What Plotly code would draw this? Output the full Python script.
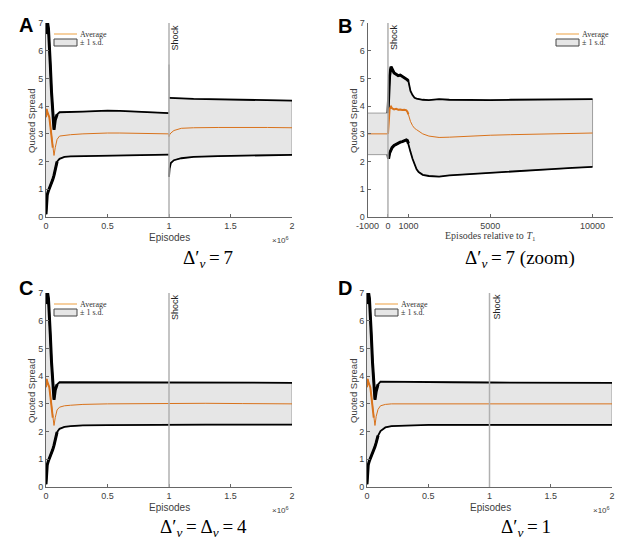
import plotly.graph_objects as go

# ---------------- data ----------------
# Panel A : Delta'_v = 7
a_x = [0, 5e3, 1e4, 2e4, 2.7e4, 3.5e4, 4.5e4, 5.5e4, 6.5e4, 7.5e4, 9e4, 1.1e5, 1.5e5, 2e5,
       3e5, 4e5, 5e5, 6e5, 7e5, 8e5, 9e5, 9.99e5, 1e6, 1.001e6, 1.005e6, 1.015e6, 1.04e6,
       1.1e6, 1.2e6, 1.4e6, 1.6e6, 1.8e6, 2e6]
a_upper = [6.6, 7.2, 7.1, 6.8, 6.3, 5.5, 4.5, 3.6, 3.15, 3.5, 3.7, 3.78, 3.78, 3.79,
           3.8, 3.82, 3.84, 3.83, 3.81, 3.8, 3.77, 3.75, 5.5, 4.3, 4.3, 4.3, 4.3,
           4.28, 4.26, 4.24, 4.22, 4.21, 4.2]
a_mean = [3.6, 3.9, 3.8, 3.7, 3.6, 3.3, 2.9, 2.5, 2.22, 2.5, 2.8, 2.92, 2.95, 2.97,
          3.0, 3.02, 3.03, 3.03, 3.02, 3.02, 3.01, 3.0, 2.9, 2.92, 2.97, 3.03, 3.12,
          3.2, 3.22, 3.23, 3.24, 3.23, 3.22]
a_lower = [0.1, 0.6, 0.8, 0.95, 1.02, 1.12, 1.25, 1.35, 1.5, 1.75, 2.0, 2.1, 2.17, 2.19,
           2.2, 2.21, 2.22, 2.22, 2.23, 2.24, 2.25, 2.25, 1.45, 1.6, 1.75, 1.95, 2.05,
           2.12, 2.17, 2.2, 2.22, 2.23, 2.24]

# Panel B : zoom around the shock (episodes relative to T1)
b_x = [-1000, -1, 0, 30, 80, 150, 200, 300, 400, 500, 600, 700, 800, 900, 950, 1000,
       1050, 1100, 1200, 1300, 1400, 1500, 1700, 2000, 2500, 3000, 4000, 5000, 6000,
       7000, 8000, 9000, 10000]
b_upper = [3.75, 3.75, 3.75, 4.4, 5.1, 5.42, 5.35, 5.2, 5.15, 5.1, 5.12, 5.07, 5.05, 5.0,
           4.95, 4.9, 4.7, 4.55, 4.4, 4.3, 4.27, 4.25, 4.23, 4.22, 4.25, 4.23, 4.22, 4.22,
           4.23, 4.24, 4.25, 4.25, 4.25]
b_mean = [3.0, 3.0, 3.0, 3.5, 3.9, 3.98, 3.92, 3.88, 3.9, 3.87, 3.88, 3.86, 3.87, 3.85,
          3.8, 3.7, 3.55, 3.45, 3.3, 3.2, 3.15, 3.1, 3.0, 2.92, 2.87, 2.88, 2.92, 2.95,
          2.97, 2.99, 3.0, 3.02, 3.03]
b_lower = [2.25, 2.25, 2.25, 2.1, 2.3, 2.45, 2.5, 2.58, 2.63, 2.66, 2.7, 2.72, 2.75, 2.78,
           2.76, 2.65, 2.5, 2.35, 2.1, 1.9, 1.72, 1.62, 1.52, 1.48, 1.46, 1.5, 1.55, 1.6,
           1.65, 1.69, 1.73, 1.77, 1.81]

# Panel C : Delta'_v = Delta_v = 4
c_x = [0, 5e3, 1e4, 2e4, 2.7e4, 3.5e4, 4.5e4, 5.5e4, 6.5e4, 7.5e4, 9e4, 1.1e5, 1.5e5, 2e5,
       3e5, 5e5, 7e5, 1e6, 1.3e6, 1.6e6, 2e6]
c_upper = [6.6, 7.2, 7.1, 6.8, 6.3, 5.5, 4.5, 3.6, 3.15, 3.5, 3.7, 3.78, 3.78, 3.78,
           3.78, 3.78, 3.77, 3.78, 3.78, 3.77, 3.76]
c_mean = [3.6, 3.9, 3.8, 3.7, 3.6, 3.3, 2.9, 2.5, 2.22, 2.5, 2.78, 2.88, 2.93, 2.95,
          2.98, 3.0, 3.01, 3.02, 3.02, 3.01, 3.0]
c_lower = [0.1, 0.6, 0.8, 0.95, 1.02, 1.12, 1.25, 1.35, 1.5, 1.75, 1.98, 2.1, 2.17, 2.2,
           2.22, 2.23, 2.24, 2.25, 2.25, 2.25, 2.25]

# Panel D : Delta'_v = 1
d_x = [0, 5e3, 1e4, 2e4, 2.7e4, 3.5e4, 4.5e4, 5.5e4, 6.5e4, 7.5e4, 9e4, 1.1e5, 1.5e5, 2e5,
       3e5, 5e5, 7e5, 1e6, 1.3e6, 1.6e6, 2e6]
d_upper = [6.6, 7.2, 7.1, 6.8, 6.3, 5.5, 4.5, 3.6, 3.15, 3.45, 3.7, 3.8, 3.8, 3.8,
           3.8, 3.79, 3.78, 3.77, 3.77, 3.76, 3.76]
d_mean = [3.6, 3.9, 3.8, 3.7, 3.6, 3.3, 2.9, 2.5, 2.22, 2.55, 2.8, 2.93, 2.98, 3.0,
          3.0, 3.0, 3.0, 3.0, 3.0, 3.0, 3.0]
d_lower = [0.1, 0.6, 0.8, 0.95, 1.02, 1.12, 1.25, 1.35, 1.45, 1.6, 1.85, 2.02, 2.15, 2.2,
           2.22, 2.24, 2.24, 2.24, 2.24, 2.24, 2.24]

shock_x = [1e6, 0, 1e6, 1e6]
x_ticks_long = [0, 5e5, 1e6, 1.5e6, 2e6]
x_ticklabels_long = ["0", "0.5", "1", "1.5", "2"]
x_ticks_zoom = [-1000, 0, 1000, 5000, 10000]
y_ticks = [0, 1, 2, 3, 4, 5, 6, 7]
captions = ["Δ′<sub><i>v</i></sub>\u2009=\u20097",
            "Δ′<sub><i>v</i></sub>\u2009=\u20097 (zoom)",
            "Δ′<sub><i>v</i></sub>\u2009=\u2009Δ<sub><i>v</i></sub>\u2009=\u20094",
            "Δ′<sub><i>v</i></sub>\u2009=\u20091"]
letters = ["A", "B", "C", "D"]

# ---------------- style ----------------
W, H = 627, 555
FILL = "#e6e6e6"
EDGE = "#8a8a8a"
MEANC = "#d9731c"
SANS = "Liberation Sans, Arial, sans-serif"
SERIF = "Liberation Serif, Times New Roman, serif"
AXC = "#666666"
TXT = "#404040"


def px(x):
    return x / W


def py(y):
    return 1 - y / H


fig = go.Figure()


def add_panel(n, x, up, mu, lo, up_segs, lo_segs, thick, mean_thick):
    xa = "x" if n == 1 else "x%d" % n
    ya = "y" if n == 1 else "y%d" % n
    common = dict(xaxis=xa, yaxis=ya, showlegend=False, hoverinfo="skip", mode="lines")
    fig.add_trace(go.Scatter(x=list(x) + list(x)[::-1], y=list(up) + list(lo)[::-1],
                             fill="toself", fillcolor=FILL,
                             line=dict(color=EDGE, width=0.8), **common))
    for arr, segs in ((up, up_segs), (lo, lo_segs)):
        for s, e in segs:
            fig.add_trace(go.Scatter(x=x[s:e], y=arr[s:e],
                                     line=dict(color="black", width=1.8), **common))
        s, e = thick
        fig.add_trace(go.Scatter(x=x[s:e], y=arr[s:e],
                                 line=dict(color="black", width=3), **common))
    fig.add_trace(go.Scatter(x=x, y=mu, line=dict(color=MEANC, width=1), **common))
    s, e = mean_thick
    fig.add_trace(go.Scatter(x=x[s:e], y=mu[s:e], line=dict(color=MEANC, width=2), **common))


add_panel(1, a_x, a_upper, a_mean, a_lower, [(0, 22), (23, 33)], [(0, 22), (22, 33)], (0, 11), (0, 8))
add_panel(2, b_x, b_upper, b_mean, b_lower, [(2, 33)], [(2, 33)], (2, 16), (2, 16))
add_panel(3, c_x, c_upper, c_mean, c_lower, [(0, 21)], [(0, 21)], (0, 11), (0, 8))
add_panel(4, d_x, d_upper, d_mean, d_lower, [(0, 21)], [(0, 21)], (0, 11), (0, 8))

# axes
domains = {
    1: ([46, 292], [23, 217]),
    2: ([367.5, 613], [23, 217]),
    3: ([46, 292], [293, 487]),
    4: ([367, 612], [293, 487]),
}
layout = {}
for n, (dx, dy) in domains.items():
    sfx = "" if n == 1 else str(n)
    ax = dict(domain=[px(dx[0]), px(dx[1])], anchor="y" + sfx, showline=True,
              linecolor=AXC, linewidth=1, ticks="inside", ticklen=3, tickcolor=AXC,
              tickfont=dict(family=SANS, size=9, color=TXT), showgrid=False, zeroline=False,
              automargin=False)
    if n == 2:
        ax.update(range=[-1000, 11000], tickvals=x_ticks_zoom,
                  ticktext=[str(v) for v in x_ticks_zoom])
    else:
        ax.update(range=[0, 2e6], tickvals=x_ticks_long, ticktext=x_ticklabels_long)
    ay = dict(domain=[py(dy[1]), py(dy[0])], anchor="x" + sfx, showline=True,
              linecolor=AXC, linewidth=1, ticks="inside", ticklen=3, tickcolor=AXC,
              tickfont=dict(family=SANS, size=9, color=TXT), showgrid=False, zeroline=False,
              range=[0, 7], tickvals=y_ticks, automargin=False)
    layout["xaxis" + sfx] = ax
    layout["yaxis" + sfx] = ay

shapes = []
annotations = []
for i, n in enumerate([1, 2, 3, 4]):
    sfx = "" if n == 1 else str(n)
    shapes.append(dict(type="line", xref="x" + sfx, yref="y%s domain" % sfx,
                       x0=shock_x[i], x1=shock_x[i], y0=0, y1=1, layer="above",
                       line=dict(color="#b0b0b0", width=1.5)))

# shock labels
for (sx, sy) in [(175, 37.5), (394.5, 37.5), (175, 307), (496.5, 307)]:
    annotations.append(dict(text="Shock", x=px(sx), y=py(sy), xref="paper", yref="paper",
                            textangle=-90, showarrow=False, xanchor="center", yanchor="middle",
                            font=dict(family=SANS, size=9, color="#222")))

# panel letters
for L, (lx, ly) in zip(letters, [(26, 25), (345, 26), (26, 288), (345, 288)]):
    annotations.append(dict(text="<b>%s</b>" % L, x=px(lx), y=py(ly), xref="paper",
                            yref="paper", showarrow=False, xanchor="center", yanchor="middle",
                            font=dict(family=SANS, size=20, color="black")))

# y titles
for (tx, ty) in [(31, 121), (353, 121), (31, 391), (353, 391)]:
    annotations.append(dict(text="Quoted Spread", x=px(tx), y=py(ty), xref="paper",
                            yref="paper", textangle=-90, showarrow=False,
                            xanchor="center", yanchor="middle",
                            font=dict(family=SANS, size=9.5, color=TXT)))

# x titles
for (tx, ty, t, f) in [(169, 237, "Episodes", SANS),
                       (490, 236, "Episodes relative to <i>T</i><sub>1</sub>", SERIF),
                       (169, 507, "Episodes", SANS), (490, 507, "Episodes", SANS)]:
    annotations.append(dict(text=t, x=px(tx), y=py(ty), xref="paper", yref="paper",
                            showarrow=False, xanchor="center", yanchor="middle",
                            font=dict(family=f, size=10, color=TXT)))

# exponent labels
for (tx, ty) in [(291, 240), (291, 510), (612, 510)]:
    annotations.append(dict(text="×10<sup>6</sup>", x=px(tx), y=py(ty), xref="paper",
                            yref="paper", showarrow=False, xanchor="right", yanchor="middle",
                            font=dict(family=SANS, size=8, color=TXT)))

# captions
for cap, (cx, cy) in zip(captions, [(208, 259), (520, 259), (204, 528), (526, 528)]):
    annotations.append(dict(text=cap, x=px(cx), y=py(cy), xref="paper", yref="paper",
                            showarrow=False, xanchor="center", yanchor="middle",
                            font=dict(family=SERIF, size=19, color="black")))

# legends
for (lx, ly) in [(54, 34), (556, 34), (54, 304), (375, 304)]:
    shapes.append(dict(type="line", xref="paper", yref="paper", x0=px(lx), x1=px(lx + 23),
                       y0=py(ly), y1=py(ly), line=dict(color="#f0b060", width=1.2)))
    shapes.append(dict(type="rect", xref="paper", yref="paper", x0=px(lx), x1=px(lx + 23),
                       y0=py(ly + 5), y1=py(ly + 12), fillcolor=FILL,
                       line=dict(color="#444", width=1)))
    annotations.append(dict(text="Average", x=px(lx + 24), y=py(ly), xref="paper",
                            yref="paper", showarrow=False, xanchor="left", yanchor="middle",
                            font=dict(family=SERIF, size=8, color="#333")))
    annotations.append(dict(text="± 1 s.d.", x=px(lx + 24), y=py(ly + 8.5), xref="paper",
                            yref="paper", showarrow=False, xanchor="left", yanchor="middle",
                            font=dict(family=SERIF, size=8, color="#333")))

fig.update_layout(width=W, height=H, margin=dict(l=0, r=0, t=0, b=0),
                  paper_bgcolor="white", plot_bgcolor="white", showlegend=False,
                  shapes=shapes, annotations=annotations, **layout)

fig.write_html("out.html")
